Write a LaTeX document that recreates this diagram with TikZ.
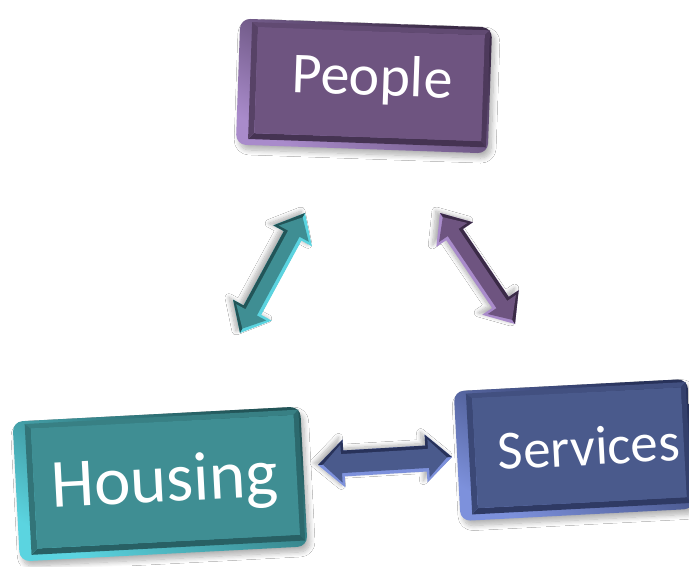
\documentclass[tikz,border=0pt]{standalone}
\usepackage{fontspec}
\setmainfont{Carlito}
\usetikzlibrary{calc,shadows.blur}

% key colours: flat top, lit rim, dark groove
\definecolor{pplface}{HTML}{6E5480}
\definecolor{ppllight}{HTML}{A98BCB}
\definecolor{ppldark}{HTML}{3B2B47}
\definecolor{hsgface}{HTML}{3F8E93}
\definecolor{hsglight}{HTML}{5BD4E0}
\definecolor{hsgdark}{HTML}{225558}
\definecolor{srvface}{HTML}{4A5A8C}
\definecolor{srvlight}{HTML}{7D91DC}
\definecolor{srvdark}{HTML}{28325A}

\tikzset{
  keylabel/.style={text=white, inner sep=0pt, transform shape, anchor=base},
  keyshadow/.style={blur shadow={shadow xshift=3pt, shadow yshift=-5pt,
      shadow blur steps=10, shadow opacity=30, shadow blur radius=5pt}},
  arrowshadow/.style={blur shadow={shadow xshift=-4pt, shadow yshift=2pt,
      shadow blur steps=8, shadow opacity=30, shadow blur radius=4pt}},
}

% a bevelled key: #1 name, #2 centre, #3 tilt, #4 half width, #5 half height,
% #6 colour prefix, #7 label, #8 label base point, #9 font size
\newcommand\keybox[9]{%
  \begin{scope}[shift={(#2)}, rotate=#3]
    \path[keyshadow, rounded corners=10pt, top color=#6dark, bottom color=#6light,
          shading angle=-30] (-#4,-#5) rectangle (#4,#5);
    % groove round the flat top
    \fill[#6face!75!#6dark] (-#4+12,-#5+3) -- (#4-2,-#5+3) -- (#4-7,-#5+8) -- (-#4+18,-#5+8) -- cycle;
    \fill[#6dark!65!#6face] (#4-2,-#5+3) -- (#4-2,#5-6) -- (#4-7,#5-12) -- (#4-7,-#5+8) -- cycle;
    \fill[#6dark!80!#6face] (#4-2,#5-6) -- (-#4+12,#5-6) -- (-#4+18,#5-12) -- (#4-7,#5-12) -- cycle;
    \fill[#6face!55!#6dark] (-#4+12,#5-6) -- (-#4+12,-#5+3) -- (-#4+18,-#5+8) -- (-#4+18,#5-12) -- cycle;
    % flat top
    \fill[#6face] (-#4+18,-#5+8) rectangle (#4-7,#5-12);
    \node[keylabel, font=\fontsize{#9}{#9}\selectfont] (#1) at (#8) {#7};
  \end{scope}}

% a bevelled double arrow between two named points:
% #1 shaft half width, #2 head half width, #3 and #4 the tips, #5 colour prefix
\def\ahl{26pt}
\def\ahli{23.5pt}
\newcommand\bevelarrow[5]{%
  \pgfmathsetmacro\aswi{#1-3.5}%
  \pgfmathsetmacro\ahwi{#2-5}%
  \coordinate (#3-h) at ($(#3)!\ahl!(#4)$);
  \coordinate (#4-h) at ($(#4)!\ahl!(#3)$);
  \coordinate (#3-ih) at ($(#3)!\ahli!(#4)$);
  \coordinate (#4-ih) at ($(#4)!\ahli!(#3)$);
  \coordinate (#3-i) at ($(#3)!5pt!(#4)$);
  \coordinate (#4-i) at ($(#4)!5pt!(#3)$);
  % lit outline
  \fill[arrowshadow, #5light] (#3) -- ($(#3-h)!#2pt!90:(#4)$) -- ($(#3-h)!#1pt!90:(#4)$)
    -- ($(#4-h)!#1pt!-90:(#3)$) -- ($(#4-h)!#2pt!-90:(#3)$) -- (#4)
    -- ($(#4-h)!#2pt!90:(#3)$) -- ($(#4-h)!#1pt!90:(#3)$)
    -- ($(#3-h)!#1pt!-90:(#4)$) -- ($(#3-h)!#2pt!-90:(#4)$) -- cycle;
  % shaded half
  \fill[#5dark] (#3) -- ($(#3-h)!#2pt!90:(#4)$) -- ($(#3-h)!#1pt!90:(#4)$)
    -- ($(#4-h)!#1pt!-90:(#3)$) -- ($(#4-h)!#2pt!-90:(#3)$) -- (#4) -- cycle;
  % flat top
  \fill[#5face] (#3-i) -- ($(#3-ih)!\ahwi pt!90:(#4)$) -- ($(#3-ih)!\aswi pt!90:(#4)$)
    -- ($(#4-ih)!\aswi pt!-90:(#3)$) -- ($(#4-ih)!\ahwi pt!-90:(#3)$) -- (#4-i)
    -- ($(#4-ih)!\ahwi pt!90:(#3)$) -- ($(#4-ih)!\aswi pt!90:(#3)$)
    -- ($(#3-ih)!\aswi pt!-90:(#4)$) -- ($(#3-ih)!\ahwi pt!-90:(#4)$) -- cycle;
}

\begin{document}
\begin{tikzpicture}[x=1pt, y=-1pt]
  \fill[white] (0,0) rectangle (689,566);
  \useasboundingbox (0,0) rectangle (689,566);

  % the three keys
  \keybox{people}{364,86}{-2}{126}{63}{ppl}{People}{8,9}{58}
  \keybox{housing}{160,484}{3}{144}{70}{hsg}{Housing}{5,18}{69}
  \keybox{services}{574,450}{3}{117}{65}{srv}{Services}{15,16}{55}

  % tips of the double arrows
  \coordinate (tealA) at (240,333);
  \coordinate (tealB) at (305,213);
  \coordinate (purA) at (440,213);
  \coordinate (purB) at (515,324);
  \coordinate (bluA) at (318,465);
  \coordinate (bluB) at (452,457);

  \bevelarrow{10}{22}{tealA}{tealB}{hsg}
  \bevelarrow{10}{22}{purA}{purB}{ppl}
  \bevelarrow{13}{24}{bluA}{bluB}{srv}
\end{tikzpicture}
\end{document}
